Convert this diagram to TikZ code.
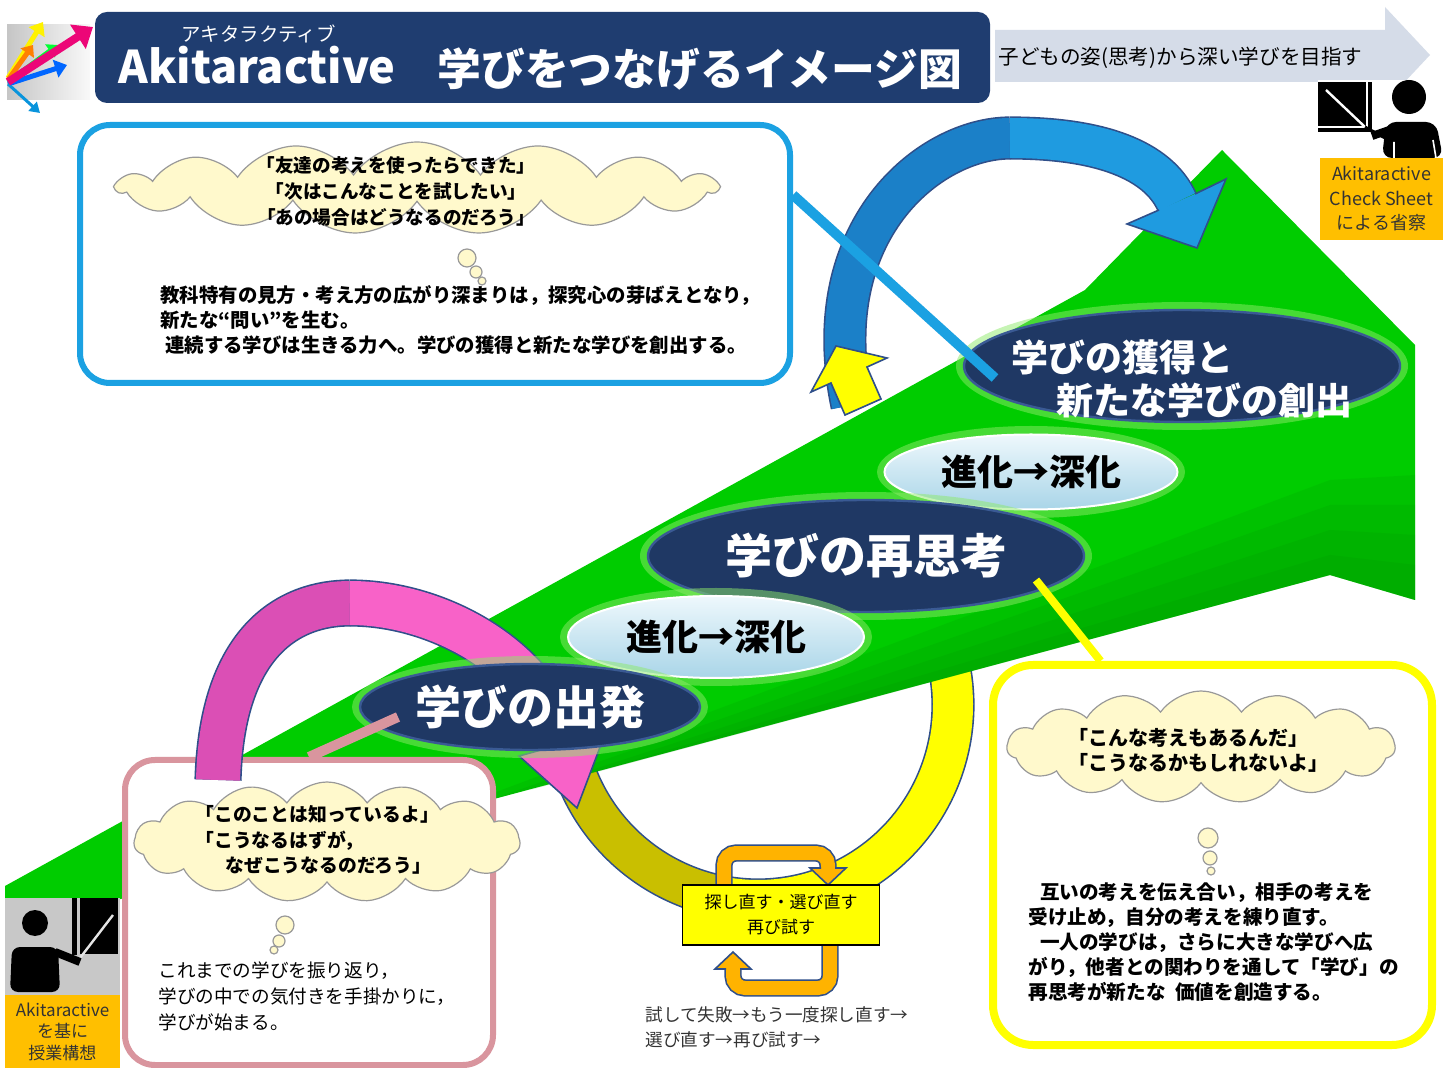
\documentclass[tikz,border=0pt]{standalone}
\usepackage{fontspec}
\setmainfont{Noto Sans CJK JP}
\usepackage{tikz}
\usetikzlibrary{shapes.geometric}
\usetikzlibrary{shapes.symbols}
\usetikzlibrary{arrows.meta,calc,positioning}

\definecolor{titlenavy}{HTML}{1F3D70}
\definecolor{ellnavy}{HTML}{1F3864}
\definecolor{ellrim}{HTML}{3A5A94}
\definecolor{haze}{HTML}{8EEA6A}
\definecolor{palehi}{HTML}{EEF8FC}
\definecolor{palelo}{HTML}{A9D5E8}
\definecolor{arrowgray}{HTML}{D5DCE8}
\definecolor{leafgreen}{HTML}{00CC00}
\definecolor{deepgreen}{HTML}{008A00}
\definecolor{boxcyan}{HTML}{1BA1E2}
\definecolor{boxpink}{HTML}{D9959E}
\definecolor{boxyellow}{HTML}{FFFF00}
\definecolor{cloudfill}{HTML}{FFF9CC}
\definecolor{cloudline}{HTML}{999999}
\definecolor{arcline}{HTML}{2F4F8A}
\definecolor{arcblue}{HTML}{1F9BE0}
\definecolor{arcbluedark}{HTML}{1B80C8}
\definecolor{arcpink}{HTML}{F862C8}
\definecolor{arcpinkdark}{HTML}{DB4FB5}
\definecolor{arcolive}{HTML}{C9BF00}
\definecolor{loopamber}{HTML}{FFB300}
\definecolor{tagamber}{HTML}{FFBF00}
\definecolor{inkgray}{HTML}{333333}
\definecolor{boardgray}{HTML}{C8C8C8}

% block arrow head: fill, shaft side, wing, tip, wing, shaft side
\newcommand{\blockhead}[6]{%
  \fill[#1] #2 -- #3 -- #4 -- #5 -- #6 -- cycle;
  \draw[arcline, line width=.8pt, line join=miter] #2 -- #3 -- #4 -- #5 -- #6;}

\begin{document}
\begin{tikzpicture}[x=0.5pt,y=-0.5pt,
  navyell/.style={ellipse, fill=ellnavy, draw=ellrim, line width=1.2pt, inner sep=0pt},
  hazeell/.style={ellipse, fill=haze, opacity=.5, inner sep=0pt},
  paleell/.style={ellipse, top color=palehi, bottom color=palelo, draw=white, line width=1pt, inner sep=0pt},
  roundbox/.style={rounded corners=15pt, fill=white, line width=3pt, inner sep=0pt},
  thought/.style={cloud, cloud puffs=15, cloud puff arc=110, cloud ignores aspect, fill=cloudfill, draw=cloudline, line width=.6pt, inner sep=0pt},
  bubble/.style={circle, fill=cloudfill, draw=cloudline, line width=.6pt, inner sep=0pt},
  band/.style={draw=arcline, line width=.8pt, double=#1},
  link/.style={line width=#1},
  tag/.style={fill=tagamber, text=inkgray, align=center, inner sep=0pt},
  say/.style={align=left, anchor=west, inner sep=0pt, text=black},
  shadegreen/.style={fill=deepgreen, opacity=.14},
]
\fill[white] (0,0) rectangle (1451,1068);
\useasboundingbox (0,0) rectangle (1451,1068);

% logo
\shade[left color=gray!45, right color=gray!5] (7,25) rectangle (90,100);
\draw[-{Triangle[width=9pt,length=6pt]}, line width=2.5pt, yellow] (8,78) -- (43,22);
\draw[-{Triangle[width=8pt,length=5pt]}, line width=2.5pt, orange] (8,80) -- (33,45);
\draw[-{Triangle[width=8pt,length=5pt]}, line width=2.5pt, green!80!cyan] (8,82) -- (58,45);
\draw[-{Triangle[width=9pt,length=6pt]}, line width=2.5pt, blue!60!cyan] (8,84) -- (67,65);
\draw[-{Triangle[width=6pt,length=5pt]}, line width=1.5pt, cyan!80!blue] (8,84) -- (40,113);
\draw[-{Triangle[width=14pt,length=9pt]}, line width=4pt, magenta!80!red] (8,82) -- (93,27);

% title
\fill[arrowgray] (995,30) -- (1385,30) -- (1385,7) -- (1430,55) -- (1385,103) -- (1385,82) -- (995,82) -- cycle;
\node[fill=titlenavy, rounded corners=6pt, minimum width=447.5pt, minimum height=45.5pt, inner sep=0pt] (titlebar) at (542.5,57.5) {};
\node[anchor=base west, text=white, inner sep=0pt, font=\bfseries\fontsize{22.5pt}{23pt}\selectfont] at (118,84) {Akitaractive};
\node[anchor=west, text=white, inner sep=0pt, font=\bfseries\fontsize{21.9pt}{22pt}\selectfont] at (437,69) {学びをつなげるイメージ図};
\node[anchor=west, text=white, inner sep=0pt, font=\fontsize{9.7pt}{10pt}\selectfont] at (181,34) {アキタラクティブ};
\node[anchor=west, inner sep=0pt, font=\fontsize{10.3pt}{11pt}\selectfont] at (998,58) {子どもの姿(思考)から深い学びを目指す};

% circle under the path
\draw[band=arcolive, double distance=20pt] ($(758,705)+(160:195)$) arc[start angle=160, end angle=100, radius=195];
\draw[band=boxyellow, double distance=20pt] ($(758,705)+(100:195)$) arc[start angle=100, end angle=-14, radius=195];

% green path, darker towards the lower right
\fill[leafgreen] (5,886) -- (1085,290) -- (1222,150) -- (1415,345) -- (1415,600) -- (1330,575) -- (5,930) -- cycle;
\fill[shadegreen] (570,779) -- (1330,555) -- (1415,565) -- (1415,600) -- (1330,575) -- cycle;
\fill[shadegreen] (530,790) -- (1330,530) -- (1415,535) -- (1415,600) -- (1330,575) -- cycle;
\fill[shadegreen] (490,800) -- (1330,505) -- (1415,505) -- (1415,600) -- (1330,575) -- cycle;
\fill[shadegreen] (440,813) -- (1330,480) -- (1415,475) -- (1415,600) -- (1330,575) -- cycle;

% boxes
\node[roundbox, draw=boxcyan, minimum width=355pt, minimum height=129pt] (bluebox) at (435,254) {};
\node[roundbox, draw=boxpink, minimum width=184pt, minimum height=152.5pt] (pinkbox) at (309,912.5) {};
\node[roundbox, draw=boxyellow, line width=4pt, rounded corners=20pt, minimum width=219.5pt, minimum height=190pt] (yellowbox) at (1212.5,855) {};

\node[thought, minimum width=300pt, minimum height=46pt] (cloudA) at (417,188) {};
\node[align=center, inner sep=0pt, font=\bfseries\fontsize{9.3pt}{13pt}\selectfont] at (396,191) {「友達の考えを使ったらできた」\\「次はこんなことを試したい」\\「あの場合はどうなるのだろう」};
\node[bubble, minimum size=9pt] at (467,258) {};
\node[bubble, minimum size=6pt] at (476,272) {};
\node[bubble, minimum size=4pt] at (482,281) {};
\node[say, font=\bfseries\fontsize{9.7pt}{12.5pt}\selectfont] at (160,320) {教科特有の見方・考え方の広がり深まりは，探究心の芽ばえとなり，\\新たな“問い”を生む。\\\hspace{.25em}連続する学びは生きる力へ。学びの獲得と新たな学びを創出する。};

\node[thought, minimum width=193pt, minimum height=60pt] (cloudB) at (327,842) {};
\node[say, font=\bfseries\fontsize{9.4pt}{12.8pt}\selectfont] at (195,840) {「このことは知っているよ」\\「こうなるはずが，\\\hspace{1.6em}なぜこうなるのだろう」};
\node[bubble, minimum size=9pt] at (285,925) {};
\node[bubble, minimum size=6pt] at (279,941) {};
\node[bubble, minimum size=4pt] at (274,950) {};
\node[say, font=\fontsize{9.3pt}{13pt}\selectfont] at (158,996) {これまでの学びを振り返り，\\学びの中での気付きを手掛かりに，\\学びが始まる。};

\node[thought, minimum width=194pt, minimum height=56pt] (cloudC) at (1201,747) {};
\node[say, font=\bfseries\fontsize{10pt}{12.5pt}\selectfont] at (1068,750) {「こんな考えもあるんだ」\\「こうなるかもしれないよ」};
\node[bubble, minimum size=10pt] at (1208,838) {};
\node[bubble, minimum size=7pt] at (1210,858) {};
\node[bubble, minimum size=4pt] at (1211,871) {};
\node[say, font=\bfseries\fontsize{9.8pt}{12.4pt}\selectfont] at (1028,942) {\hspace{.6em}互いの考えを伝え合い，相手の考えを\\受け止め，自分の考えを練り直す。\\\hspace{.6em}一人の学びは，さらに大きな学びへ広\\がり，他者との関わりを通して「学び」の\\再思考が新たな\hspace{.5em}価値を創造する。};

% blue and pink loops
\draw[band=arcbluedark, double distance=20pt] (852,405) .. controls (815,230) and (930,138) .. (1010,138);
\draw[band=arcblue, double distance=20pt] (1010,138) .. controls (1100,138) and (1158,160) .. (1177,202);
\blockhead{arcblue}{(1195,194)}{(1226,179)}{(1197,248)}{(1127,224)}{(1159,210)}
\filldraw[fill=boxyellow, draw=arcline, line width=.8pt, line join=miter] (845,415) -- (831,383) -- (811,392) -- (836,346) -- (887,358) -- (867,367) -- (881,399) -- cycle;

\draw[band=arcpinkdark, double distance=22pt] (218,780) .. controls (222,640) and (290,603) .. (350,603);
\draw[band=arcpink, double distance=22pt] (350,603) .. controls (440,603) and (540,660) .. (562,745);
\blockhead{arcpink}{(583,740)}{(605,734)}{(577,808)}{(519,756)}{(541,750)}

% stages
\node[hazeell, minimum width=226pt, minimum height=64pt] at (1182,366) {};
\node[navyell, minimum width=218pt, minimum height=56pt] (acquire) at (1182,366) {};
\node[text=white, align=left, inner sep=0pt, font=\bfseries\fontsize{18.5pt}{21.5pt}\selectfont] at ($(acquire)+(0,13)$) {学びの獲得と\\\hspace{1.2em}新たな学びの創出};

\node[hazeell, minimum width=154pt, minimum height=46pt] at (1031,472) {};
\node[paleell, minimum width=146.5pt, minimum height=37.5pt, font=\bfseries\fontsize{18pt}{18pt}\selectfont] (deeptwo) at (1031,472) {進化→深化};

\node[hazeell, minimum width=226pt, minimum height=64pt] at (866,556) {};
\node[navyell, minimum width=218pt, minimum height=56pt, text=white, font=\bfseries\fontsize{23.5pt}{24pt}\selectfont] (rethink) at (866,556) {学びの再思考};

\node[hazeell, minimum width=156pt, minimum height=49pt] at (716,637) {};
\node[paleell, minimum width=148pt, minimum height=41pt, font=\bfseries\fontsize{18pt}{18pt}\selectfont] (deepone) at (716,637) {進化→深化};

\node[hazeell, minimum width=178pt, minimum height=51pt] at (530,707) {};
\node[navyell, minimum width=170pt, minimum height=43pt, text=white, font=\bfseries\fontsize{23pt}{24pt}\selectfont] (departure) at (530,707) {学びの出発};

% links to the boxes
\draw[link=5pt, boxcyan] ($(bluebox.east)+(0,-59)$) -- ($(acquire)+(-187,12)$);
\draw[link=5pt, boxpink] ($(departure)+(-132,10)$) -- (pinkbox.north);
\draw[link=4pt, boxyellow] ($(rethink)+(170,24)$) -- ($(yellowbox.north)+(-112,0)$);

% retry loop
\draw[band=loopamber, double distance=7pt, rounded corners=6pt] (724,890) -- (724,853) -- (828,853) -- (828,868);
\blockhead{loopamber}{(835,868)}{(846,868)}{(828,885)}{(810,868)}{(821,868)}
\draw[band=loopamber, double distance=7pt, rounded corners=6pt] (830,940) -- (830,988) -- (733,988) -- (733,969);
\blockhead{loopamber}{(726,969)}{(715,969)}{(733,952)}{(751,969)}{(740,969)}
\node[draw=black, fill=boxyellow, line width=.8pt, minimum width=98.5pt, minimum height=30pt, align=center, inner sep=0pt, font=\fontsize{8.5pt}{12.5pt}\selectfont] (retry) at (781,915) {探し直す・選び直す\\再び試す};
\node[say, text=inkgray, font=\fontsize{8.8pt}{12.5pt}\selectfont] at (645,1027) {試して失敗→もう一度探し直す→\\選び直す→再び試す→};

% teacher, top right
\fill[white] (1318,80) rectangle (1443,158);
\fill[black] (1318,82) rectangle (1372,132);
\draw[white, line width=1.2pt] (1318,127) -- (1367,127) -- (1367,82);
\draw[white, line width=1.2pt] (1326,90) -- (1365,127);
\draw[black, line width=1.5pt] (1365,127) -- (1385,138);
\fill[black] (1409,97) circle (17);
\fill[black, rounded corners=5pt] (1382,158) -- (1386,122) -- (1436,122) -- (1443,158) -- cycle;
\draw[black, line width=4pt] (1395,128) -- (1372,136);
\draw[white, line width=.8pt] (1394,142) -- (1394,158) (1433,140) -- (1436,158);
\node[tag, minimum width=61.5pt, minimum height=41pt, font=\fontsize{9pt}{12.25pt}\selectfont] (checktag) at (1381.5,199) {Akitaractive\\Check Sheet\\による省察};

% teacher, bottom left
\fill[boardgray] (5,898) rectangle (120,995);
\fill[black] (72,898) rectangle (118,955);
\draw[boardgray, line width=1.5pt] (78,898) -- (78,955) -- (118,955);
\draw[gray!20, line width=1.2pt] (113,915) -- (80,958);
\fill[black] (35,923) circle (13);
\fill[black, rounded corners=4pt] (10,992) -- (12,947) -- (58,947) -- (60,992) -- cycle;
\draw[black, line width=4pt] (55,952) -- (80,962);
\node[tag, minimum width=57.5pt, minimum height=36.5pt, font=\fontsize{8.5pt}{10.75pt}\selectfont] (plantag) at (62.5,1031.5) {Akitaractive\\を基に\\授業構想};
\end{tikzpicture}
\end{document}
